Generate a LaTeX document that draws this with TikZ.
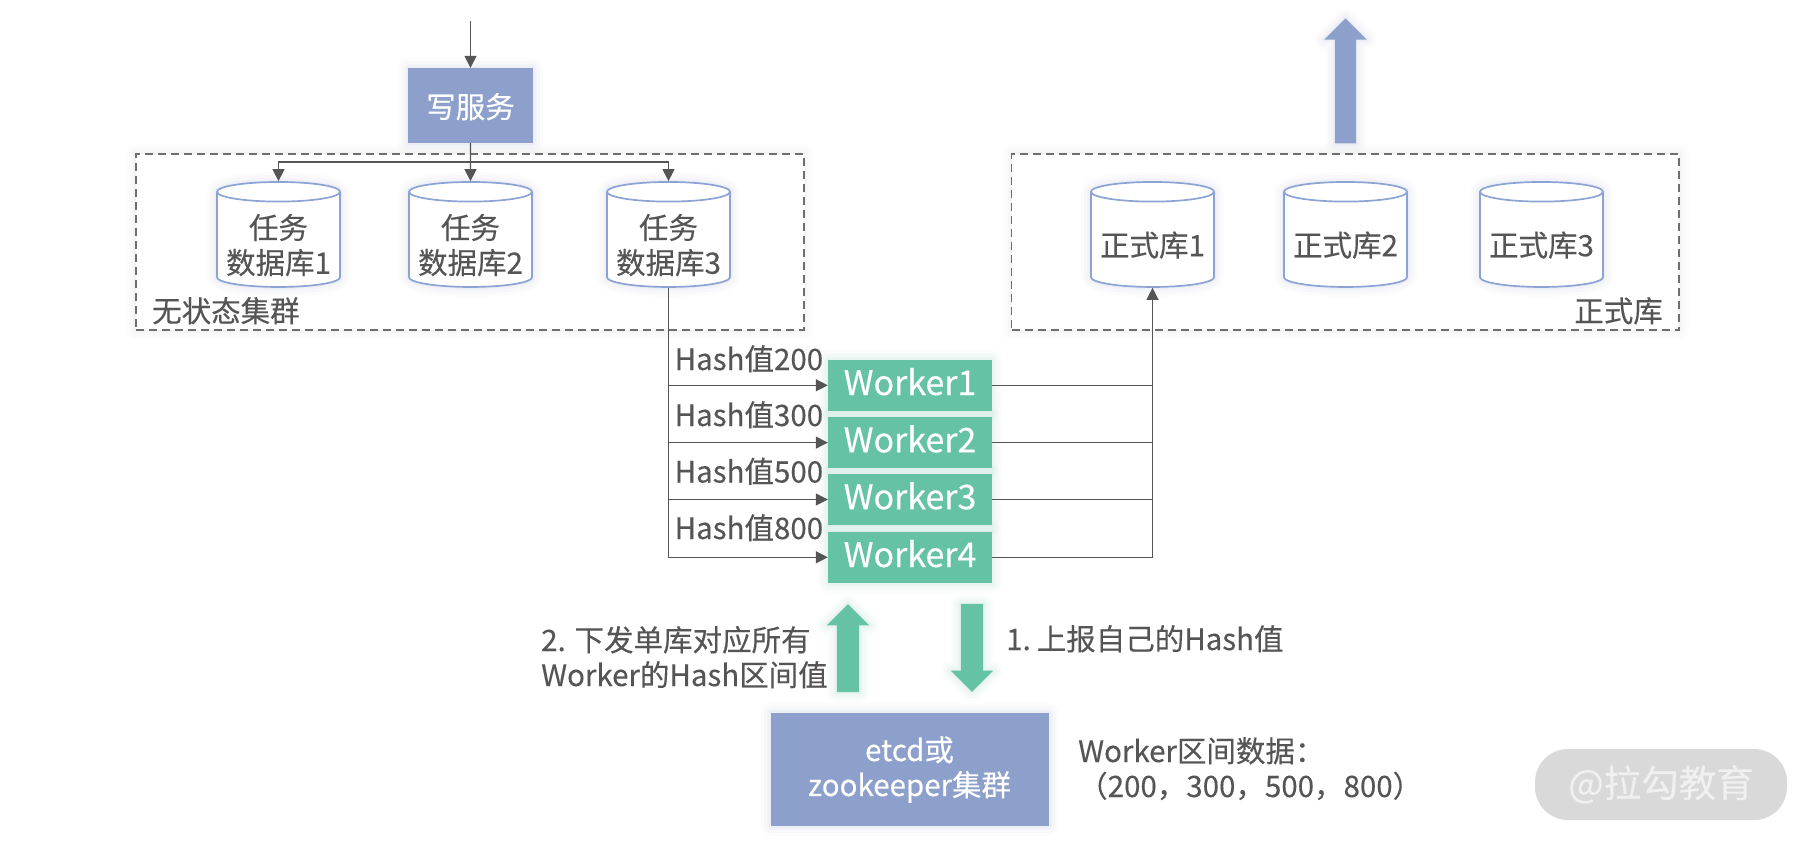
\documentclass[tikz,border=0pt]{standalone}
\usepackage{fontspec}
\setmainfont{Noto Sans CJK SC}[FakeBold=0.25]
\usetikzlibrary{arrows.meta,shapes.geometric,shapes.arrows}
\definecolor{bluebox}{HTML}{8DA0CB}
\definecolor{greenbox}{HTML}{66C2A5}
\definecolor{inkgrey}{HTML}{555555}
\definecolor{cylline}{HTML}{8CA3D3}
\definecolor{dashgrey}{HTML}{6E6E6E}
\tikzset{
  halo/.style={
    preaction={draw=#1,solid,draw opacity=.025,line width=20pt,line join=round},
    preaction={draw=#1,solid,draw opacity=.035,line width=14pt,line join=round},
    preaction={draw=#1,solid,draw opacity=.04,line width=8pt,line join=round},
    preaction={draw=#1,solid,draw opacity=.05,line width=4pt,line join=round}},
  txt/.style={text=inkgrey,font=\fontsize{29.5}{35}\selectfont,inner sep=0pt,align=center},
  lab/.style={txt,align=left},
  wtxt/.style={text=white,font=\fontsize{29.5}{35}\selectfont,align=center},
  bluerect/.style={rectangle,fill=bluebox,inner sep=0pt,halo=bluebox,wtxt},
  workerbox/.style={rectangle,fill=greenbox,inner sep=0pt,minimum width=164pt,minimum height=51pt,halo=greenbox,text=white,font=\fontsize{34}{40}\selectfont,text height=24pt,text depth=4.6pt},
  dbcyl/.style={cylinder,shape border rotate=90,aspect=.187,draw=cylline,line width=1.7pt,fill=white,
    minimum height=105pt,minimum width=123pt,inner sep=0pt,halo=cylline,txt,
    label={[txt,yshift=-5.3pt]center:#1}},
  zone/.style={rectangle,draw=dashgrey,line width=1.6pt,dash pattern=on 8pt off 5pt,fill=white,inner sep=0pt,halo=gray!60},
  conn/.style={draw=inkgrey,line width=1.3pt,-{Triangle[length=12pt,width=12pt]}},
  plainconn/.style={draw=inkgrey,line width=1.3pt},
  bigarrow/.style={single arrow,inner sep=0pt,single arrow tip angle=90,single arrow head indent=0pt,
    single arrow head extend=10.5pt,fill=#1,halo=#1},
}
\begin{document}
\begin{tikzpicture}[x=1pt,y=-1pt]
\useasboundingbox (0,0) rectangle (1814,844);
\fill[white] (0,0) rectangle (1814,844);
% zones
\node[zone,minimum width=668pt,minimum height=176pt] (zoneA) at (470,242) {};
\node[zone,minimum width=667.5pt,minimum height=176pt] (zoneB) at (1345.3,242) {};
\node[lab,anchor=base west] (zoneAlabel) at (152,322) {无状态集群};
\node[lab,anchor=base east] (zoneBlabel) at (1663,322) {正式库};
% write service
\node[bluerect,minimum width=125pt,minimum height=75pt,text depth=0pt] (write) at (470.5,105.5) {写服务};
\coordinate (inflow) at (470.5,20.5);
\coordinate (bus) at (470.5,162);
% task databases
\node[dbcyl={任务\\数据库1}] (t1) at (278.5,239.8) {\phantom{数据库1}};
\node[dbcyl={任务\\数据库2}] (t2) at (470.5,239.8) {\phantom{数据库1}};
\node[dbcyl={任务\\数据库3}] (t3) at (668.5,239.8) {\phantom{数据库1}};
% official databases
\node[dbcyl={正式库1}] (z1) at (1152.5,239.8) {\phantom{数据库1}};
\node[dbcyl={正式库2}] (z2) at (1345.5,239.8) {\phantom{数据库1}};
\node[dbcyl={正式库3}] (z3) at (1541.5,239.8) {\phantom{数据库1}};
% workers
\node[workerbox] (w1) at (910,385.3) {Worker1};
\node[workerbox] (w2) at (910,442.6) {Worker2};
\node[workerbox] (w3) at (910,499.5) {Worker3};
\node[workerbox] (w4) at (910,557.3) {Worker4};
% hash labels
\node[lab,anchor=base west] (h1) at (674.5,370) {Hash值200};
\node[lab,anchor=base west] (h2) at (674.5,426) {Hash值300};
\node[lab,anchor=base west] (h3) at (674.5,482.5) {Hash值500};
\node[lab,anchor=base west] (h4) at (674.5,539) {Hash值800};
% etcd
\node[bluerect,minimum width=278pt,minimum height=113pt] (etcd) at (909.5,769.5) {etcd或\\zookeeper集群};
% connectors
\draw[conn] (inflow) -- (write.north);
\draw[conn] (write.south) -- (t2.north);
\draw[conn] (bus) -| (t1.north);
\draw[conn] (bus) -| (t3.north);
\draw[conn] (t3.south) |- (w1.west);
\draw[conn] (t3.south) |- (w2.west);
\draw[conn] (t3.south) |- (w3.west);
\draw[conn] (t3.south) |- (w4.west);
\draw[conn] (w1.east) -| (z1.south);
\draw[plainconn] (w2.east) -| (z1.south);
\draw[plainconn] (w3.east) -| (z1.south);
\draw[plainconn] (w4.east) -| (z1.south);
% big arrows
\node[bigarrow=bluebox,rotate=90,minimum height=125pt] (outflow) at (1345.5,86.3) {\rule{0pt}{21pt}};
\node[bigarrow=greenbox,rotate=90,minimum height=88pt,single arrow head extend=10pt] (up2) at (848,653.8) {\rule{0pt}{22pt}};
\node[bigarrow=greenbox,rotate=-90,minimum height=88pt,single arrow head extend=10pt] (down1) at (972,642.2) {\rule{0pt}{22pt}};
% annotations
\node[lab,anchor=base west] (note2) at (541,686) {2. 下发单库对应所有\\Worker的Hash区间值};
\node[lab,anchor=base west] (note1) at (1006,650) {1.\kern6pt 上报自己的Hash值};
\node[lab,anchor=base west] (note3) at (1078,797) {Worker区间数据：\\（200，300，500，800）};
% watermark
\node[rectangle,rounded corners=33pt,fill=black!15,minimum width=252pt,minimum height=71pt,inner sep=0pt,text=black!6,font=\fontsize{37.5}{40}\selectfont] (mark) at (1661,784.5) {@拉勾教育};
\end{tikzpicture}
\end{document}
